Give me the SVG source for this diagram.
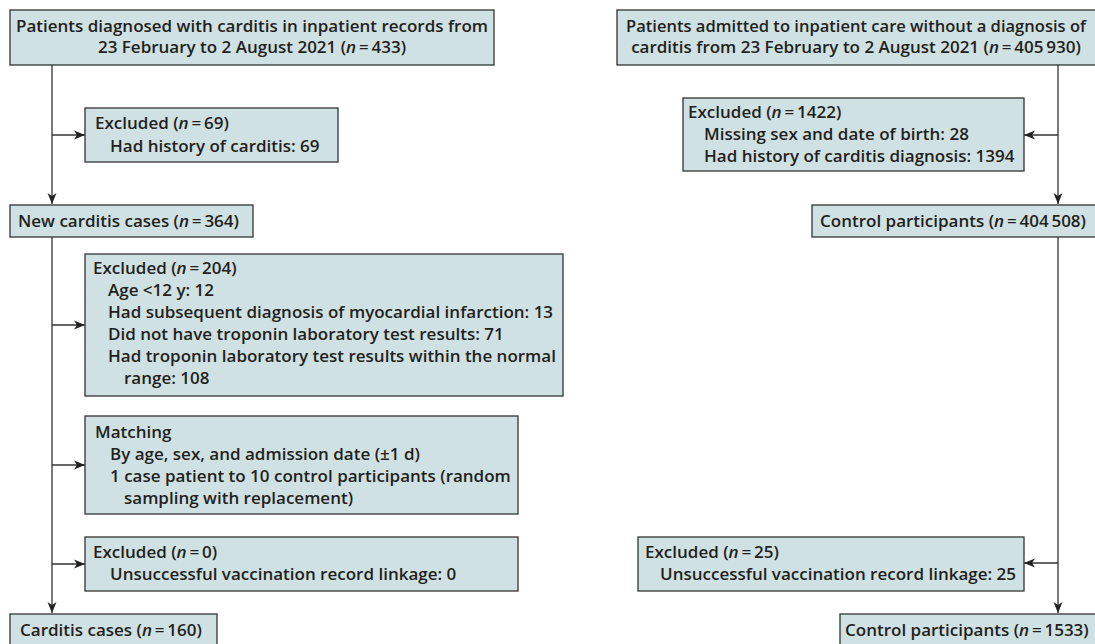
<svg xmlns="http://www.w3.org/2000/svg" width="1095" height="644" viewBox="0 0 1095 644">
<defs>
<style>
.box{fill:#cfe1e3;stroke:#333;stroke-width:1.3}
.t{font-family:"Open Sans","Noto Sans",sans-serif;font-weight:600;font-size:17px;fill:#231f20}
.c{text-anchor:middle}
.i{font-style:italic}
.ln{fill:none;stroke:#333;stroke-width:1.3}
</style>
<marker id="ah" markerUnits="userSpaceOnUse" markerWidth="12" markerHeight="10" refX="11" refY="5" orient="auto">
<path d="M0,0.5 L11,5 L0,9.5 L3,5 Z" fill="#222"/>
</marker>
</defs>
<rect width="1095" height="644" fill="#fff"/>
<g id="connectors">
<path class="ln" d="M52,65 V204" marker-end="url(#ah)"/>
<path class="ln" d="M52,135 H85" marker-end="url(#ah)"/>
<path class="ln" d="M52,237 V613" marker-end="url(#ah)"/>
<path class="ln" d="M52,325 H85" marker-end="url(#ah)"/>
<path class="ln" d="M52,465 H85" marker-end="url(#ah)"/>
<path class="ln" d="M52,564 H85" marker-end="url(#ah)"/>
<path class="ln" d="M1058,65 V204" marker-end="url(#ah)"/>
<path class="ln" d="M1058,135 H1024" marker-end="url(#ah)"/>
<path class="ln" d="M1058,237 V613" marker-end="url(#ah)"/>
<path class="ln" d="M1058,563 H1024" marker-end="url(#ah)"/>
</g>
<g id="cases-source">
<rect class="box" x="10" y="10" width="484" height="55"/>
<text class="t c" x="252" y="32">Patients diagnosed with carditis in inpatient records from</text>
<text class="t c" x="252" y="53">23 February to 2 August 2021 (<tspan class="i">n</tspan>&#8201;=&#8201;433)</text>
</g>
<g id="excluded-69">
<rect class="box" x="85" y="108" width="253" height="54"/>
<text class="t" x="95" y="129">Excluded (<tspan class="i">n</tspan>&#8201;=&#8201;69)</text>
<text class="t" x="110" y="152">Had history of carditis: 69</text>
</g>
<g id="new-cases">
<rect class="box" x="10" y="205" width="243" height="32"/>
<text class="t" x="18" y="227">New carditis cases (<tspan class="i">n</tspan>&#8201;=&#8201;364)</text>
</g>
<g id="excluded-204">
<rect class="box" x="85" y="254" width="478" height="142"/>
<text class="t" x="93" y="274">Excluded (<tspan class="i">n</tspan>&#8201;=&#8201;204)</text>
<text class="t" x="108" y="296">Age &lt;12 y: 12</text>
<text class="t" x="108" y="318">Had subsequent diagnosis of myocardial infarction: 13</text>
<text class="t" x="108" y="340">Did not have troponin laboratory test results: 71</text>
<text class="t" x="108" y="362">Had troponin laboratory test results within the normal</text>
<text class="t" x="124" y="384">range: 108</text>
</g>
<g id="matching">
<rect class="box" x="85" y="416" width="433" height="98"/>
<text class="t" x="95" y="438">Matching</text>
<text class="t" x="110" y="460">By age, sex, and admission date (±1 d)</text>
<text class="t" x="110" y="482">1 case patient to 10 control participants (random</text>
<text class="t" x="124" y="504">sampling with replacement)</text>
</g>
<g id="excluded-0">
<rect class="box" x="85" y="537" width="433" height="54"/>
<text class="t" x="93" y="558">Excluded (<tspan class="i">n</tspan>&#8201;=&#8201;0)</text>
<text class="t" x="110" y="580">Unsuccessful vaccination record linkage: 0</text>
</g>
<g id="carditis-cases">
<rect class="box" x="10" y="614" width="207" height="40"/>
<text class="t" x="20" y="636">Carditis cases (<tspan class="i">n</tspan>&#8201;=&#8201;160)</text>
</g>
<g id="controls-source">
<rect class="box" x="617" y="10" width="484" height="55"/>
<text class="t c" x="856" y="32" textLength="460" lengthAdjust="spacingAndGlyphs">Patients admitted to inpatient care without a diagnosis of</text>
<text class="t c" x="856" y="53">carditis from 23 February to 2 August 2021 (<tspan class="i">n</tspan>&#8201;=&#8201;405&#8201;930)</text>
</g>
<g id="excluded-1422">
<rect class="box" x="683" y="98" width="341" height="73"/>
<text class="t" x="688" y="118">Excluded (<tspan class="i">n</tspan>&#8201;=&#8201;1422)</text>
<text class="t" x="704" y="140">Missing sex and date of birth: 28</text>
<text class="t" x="704" y="162">Had history of carditis diagnosis: 1394</text>
</g>
<g id="controls-404508">
<rect class="box" x="812" y="205" width="290" height="32"/>
<text class="t" x="820" y="227">Control participants (<tspan class="i">n</tspan>&#8201;=&#8201;404&#8201;508)</text>
</g>
<g id="excluded-25">
<rect class="box" x="638" y="537" width="386" height="54"/>
<text class="t" x="645" y="558">Excluded (<tspan class="i">n</tspan>&#8201;=&#8201;25)</text>
<text class="t" x="660" y="580">Unsuccessful vaccination record linkage: 25</text>
</g>
<g id="controls-1533">
<rect class="box" x="840" y="614" width="260" height="40"/>
<text class="t" x="845" y="636">Control participants (<tspan class="i">n</tspan>&#8201;=&#8201;1533)</text>
</g>
</svg>
